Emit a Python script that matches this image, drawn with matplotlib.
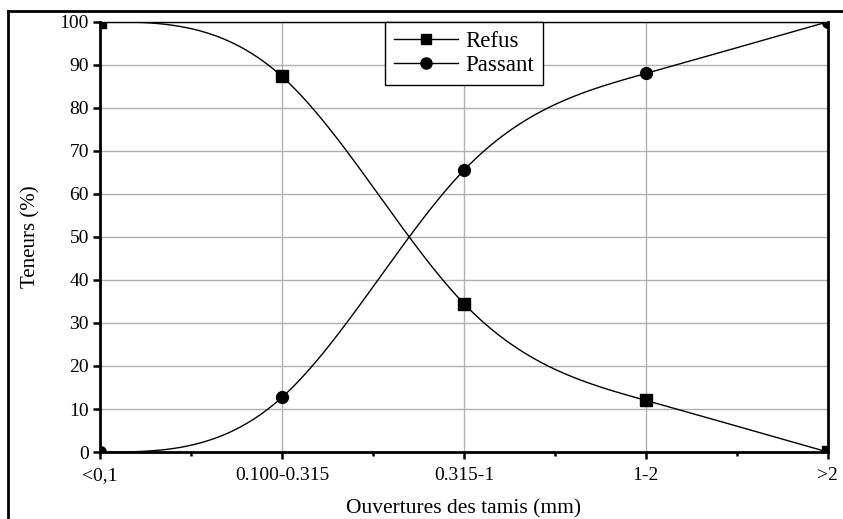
import matplotlib
matplotlib.use("Agg")
import matplotlib.pyplot as plt
from matplotlib.lines import Line2D
import numpy as np

categories = ["<0,1", "0.100-0.315", "0.315-1", "1-2", ">2"]
refus = [100, 87.3, 34.5, 12.0, 0]
passant = [0, 12.7, 65.5, 88.0, 100]


def natural_spline(x, y, xs):
    # spline cubique naturelle passant par les points mesures
    x = np.asarray(x, float)
    y = np.asarray(y, float)
    n = len(x)
    h = np.diff(x)
    d = np.diff(y) / h
    A = np.zeros((n, n))
    b = np.zeros(n)
    A[0, 0] = A[-1, -1] = 1.0
    for i in range(1, n - 1):
        A[i, i - 1] = h[i - 1]
        A[i, i] = 2 * (h[i - 1] + h[i])
        A[i, i + 1] = h[i]
        b[i] = 6 * (d[i] - d[i - 1])
    M = np.linalg.solve(A, b)
    idx = np.clip(np.searchsorted(x, xs) - 1, 0, n - 2)
    hi = h[idx]
    a = x[idx + 1] - xs
    c = xs - x[idx]
    return (M[idx] * a**3 / (6 * hi) + M[idx + 1] * c**3 / (6 * hi)
            + (y[idx] / hi - M[idx] * hi / 6) * a
            + (y[idx + 1] / hi - M[idx + 1] * hi / 6) * c)


plt.rcParams['font.family'] = ['Liberation Serif', 'DejaVu Serif']

fig = plt.figure(figsize=(8.43, 5.19), dpi=100)
ax = fig.add_axes([0.1186, 0.129, 0.982 - 0.1186, 0.958 - 0.129])

xp = np.arange(len(categories))
xs = np.linspace(0, len(categories) - 1, 400)

ax.plot(xs, natural_spline(xp, refus, xs), color='black', lw=1.0, zorder=3)
ax.plot(xs, natural_spline(xp, passant, xs), color='black', lw=1.0, zorder=3)
ax.plot(xp, refus, ls='none', marker='s', ms=8, color='black', zorder=4)
ax.plot(xp, passant, ls='none', marker='o', ms=8.5, color='black', zorder=4)

ax.set_xlim(0, len(categories) - 1)
ax.set_ylim(0, 100)
ax.set_xticks(xp)
ax.set_xticklabels(categories)
ax.set_xticks(xp[:-1] + 0.5, minor=True)
ax.set_yticks(np.arange(0, 101, 10))
ax.tick_params(axis='both', which='major', labelsize=14, direction='out',
               length=5, width=1.8, colors='black')
ax.tick_params(axis='x', which='minor', direction='out', length=3, width=1.8)
ax.tick_params(axis='x', pad=6)
ax.tick_params(axis='y', pad=3)

ax.grid(True, which='major', color='#b0b0b0', lw=1.0)
ax.set_axisbelow(True)

for side in ['left', 'bottom', 'right']:
    ax.spines[side].set_linewidth(2.0)
ax.spines['top'].set_linewidth(1.0)

ax.set_xlabel("Ouvertures des tamis (mm)", fontsize=15.5, labelpad=11)
ax.set_ylabel("Teneurs (%)", fontsize=15, labelpad=14)

handles = [Line2D([], [], color='black', lw=1, marker='s', ms=7),
           Line2D([], [], color='black', lw=1, marker='o', ms=8)]
leg = ax.legend(handles, ["Refus", "Passant"], loc='upper left',
                bbox_to_anchor=(0.392, 1.0), fontsize=16.5, frameon=True,
                fancybox=False, edgecolor='black', framealpha=1,
                handlelength=2.8, borderpad=0.38, labelspacing=0.15,
                handletextpad=0.3, borderaxespad=0)
leg.get_frame().set_linewidth(1.0)

# cadre exterieur
fig.add_artist(Line2D([8 / 843, 1.0], [1 - 11 / 519, 1 - 11 / 519],
                      transform=fig.transFigure, color='black', lw=2))
fig.add_artist(Line2D([8 / 843, 8 / 843], [0, 1 - 11 / 519],
                      transform=fig.transFigure, color='black', lw=2))

fig.savefig("out.png", dpi=100)
